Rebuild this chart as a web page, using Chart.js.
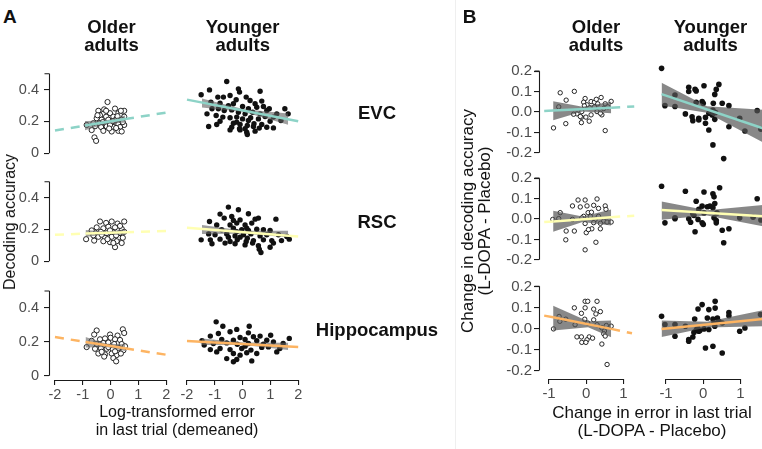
<!DOCTYPE html>
<html>
<head>
<meta charset="utf-8">
<script src="https://cdn.jsdelivr.net/npm/chart.js@4.4.0/dist/chart.umd.min.js"></script>
<style>
  html, body { margin: 0; padding: 0; background: #fff; }
  #fig { position: relative; width: 762px; height: 449px; overflow: hidden;
         font-family: "Liberation Sans", Arial, sans-serif; color: #111; }
  .box { position: absolute; }
  .txt { position: absolute; white-space: nowrap; }
  .sep { position: absolute; left: 455px; top: 0; width: 1px; height: 449px; background: #efefef; }
</style>
</head>
<body>
<div id="fig"><div class="sep"></div></div>
<script>
// ---- axis ticks ----
const A_X_TICKS = [-2, -1, 0, 1, 2];
const A_Y_TICKS = [0, 0.2, 0.4];
const B_X_TICKS = [-1, 0, 1];
const B_Y_TICKS = [-0.2, -0.1, 0, 0.1, 0.2];

const ROW_LABELS = ['EVC', 'RSC', 'Hippocampus'];
const ROW_COLORS = ['#8DD3C7', '#FFFFB3', '#FDB462'];

// ---- panel A: decoding accuracy vs log error (x, y) ----
const EVC_OLDER_A = [[-0.11,0.322],[-0.44,0.267],[0.16,0.281],[0.49,0.267],[-0.26,0.248],[-0.02,0.252],[0.28,0.252],[-0.38,0.239],[-0.16,0.230],[0.10,0.230],[0.34,0.239],[0.49,0.230],[-0.50,0.220],[-0.32,0.211],[-0.08,0.211],[0.16,0.207],[0.40,0.211],[-0.40,0.189],[-0.20,0.183],[0.04,0.189],[0.28,0.183],[0.49,0.178],[-0.86,0.178],[-0.56,0.170],[-0.34,0.165],[-0.14,0.169],[0.10,0.165],[0.34,0.165],[-0.68,0.146],[-0.26,0.141],[0.04,0.137],[0.28,0.141],[-0.58,0.100],[-0.52,0.078],[0.40,0.137],[-0.02,0.178],[0.22,0.220],[-0.23,0.276],[0.37,0.267],[-0.47,0.239],[0.20,0.159],[-0.05,0.156],[0.44,0.196],[-0.62,0.189],[-0.28,0.196],[0.08,0.202],[-0.16,0.267],[0.25,0.233]];
const EVC_YOUNGER_A = [[-0.57,0.428],[-1.19,0.381],[-1.49,0.354],[-0.15,0.387],[-0.11,0.369],[0.63,0.374],[-0.89,0.341],[-0.69,0.341],[-0.45,0.350],[-0.23,0.326],[0.13,0.341],[0.27,0.322],[0.45,0.304],[0.69,0.319],[-1.14,0.313],[-0.81,0.307],[-0.51,0.294],[-0.33,0.304],[0.00,0.289],[0.21,0.276],[0.51,0.285],[0.75,0.289],[0.96,0.276],[-1.10,0.276],[-0.87,0.276],[-0.66,0.267],[-0.39,0.270],[-0.15,0.257],[0.09,0.248],[0.36,0.257],[0.63,0.248],[0.87,0.267],[1.23,0.248],[1.52,0.276],[1.64,0.248],[-1.28,0.248],[-0.95,0.239],[-0.71,0.230],[-0.45,0.226],[-0.21,0.230],[0.00,0.220],[0.29,0.226],[0.57,0.220],[0.81,0.233],[1.11,0.230],[1.38,0.211],[-0.81,0.207],[-0.33,0.196],[-0.09,0.189],[0.17,0.183],[0.41,0.193],[0.69,0.189],[-0.39,0.174],[0.09,0.165],[0.39,0.178],[0.87,0.174],[-1.22,0.178],[-0.45,0.159],[-0.11,0.165],[0.15,0.146],[0.60,0.169],[1.11,0.170],[-0.21,0.202],[-0.93,0.189],[0.99,0.207],[0.21,0.211],[-0.09,0.159],[0.17,0.133],[0.45,0.152]];
const RSC_OLDER_A = [[-0.38,0.250],[-0.16,0.241],[0.04,0.250],[0.25,0.237],[0.49,0.250],[-0.50,0.213],[-0.26,0.207],[-0.08,0.217],[0.16,0.213],[0.40,0.204],[-0.56,0.181],[-0.35,0.185],[-0.14,0.176],[0.10,0.181],[0.32,0.176],[0.49,0.185],[-0.44,0.154],[-0.20,0.148],[0.04,0.154],[0.28,0.148],[-0.88,0.139],[-0.59,0.130],[-0.26,0.126],[-0.02,0.120],[0.22,0.126],[0.40,0.115],[0.16,0.089],[-0.68,0.194],[-0.02,0.194],[-0.32,0.167],[0.20,0.163],[0.44,0.148],[-0.11,0.139],[0.10,0.115],[0.34,0.222],[-0.62,0.163]];
const RSC_YOUNGER_A = [[-0.51,0.330],[-0.15,0.315],[-0.81,0.291],[0.21,0.293],[-1.19,0.250],[-0.66,0.269],[-0.39,0.278],[-0.09,0.259],[0.45,0.263],[0.57,0.269],[1.20,0.263],[-0.93,0.231],[-0.45,0.231],[-0.21,0.241],[0.09,0.231],[0.33,0.241],[0.75,0.204],[0.99,0.200],[-0.75,0.204],[-0.33,0.213],[-0.03,0.204],[0.21,0.200],[0.51,0.207],[-1.22,0.181],[-0.99,0.176],[-0.57,0.181],[-0.27,0.170],[0.03,0.176],[0.30,0.181],[0.63,0.170],[0.87,0.176],[1.29,0.176],[1.59,0.167],[-1.49,0.148],[-1.16,0.148],[-0.81,0.152],[-0.45,0.139],[-0.19,0.148],[0.13,0.139],[0.39,0.144],[0.75,0.148],[1.05,0.144],[1.40,0.144],[1.68,0.152],[-1.10,0.126],[-0.63,0.130],[-0.27,0.126],[0.09,0.120],[0.57,0.115],[0.99,0.107],[1.11,0.130],[0.60,0.096],[0.66,0.078],[0.36,0.130],[0.17,0.157],[-0.09,0.163],[-0.33,0.256],[0.15,0.213],[-0.21,0.194],[-0.51,0.163]];
const HIPP_OLDER_A = [[-0.50,0.267],[0.44,0.274],[0.49,0.252],[-0.59,0.243],[-0.02,0.243],[0.25,0.237],[-0.38,0.215],[-0.20,0.220],[0.00,0.224],[0.16,0.215],[0.34,0.211],[-0.50,0.187],[-0.26,0.193],[-0.08,0.196],[0.13,0.187],[0.40,0.187],[0.52,0.174],[-0.86,0.169],[-0.56,0.159],[-0.35,0.163],[-0.14,0.159],[0.08,0.156],[0.28,0.163],[0.46,0.150],[-0.44,0.131],[-0.20,0.126],[0.04,0.131],[0.22,0.122],[0.37,0.131],[-0.23,0.113],[0.10,0.104],[0.20,0.085],[-0.68,0.206],[-0.08,0.169],[0.16,0.144],[-0.32,0.141]];
const HIPP_YOUNGER_A = [[-0.95,0.298],[-0.71,0.274],[0.24,0.274],[-1.16,0.219],[-0.87,0.233],[-0.45,0.243],[-0.21,0.256],[0.21,0.237],[1.01,0.224],[-0.09,0.211],[0.39,0.215],[0.63,0.219],[-0.75,0.200],[-0.33,0.196],[0.09,0.200],[0.51,0.193],[0.87,0.196],[1.11,0.187],[1.68,0.206],[-1.46,0.193],[-1.05,0.178],[-0.57,0.181],[-0.19,0.174],[0.21,0.178],[0.75,0.174],[1.46,0.178],[-1.16,0.144],[-0.81,0.150],[-0.45,0.144],[-0.03,0.150],[0.30,0.141],[0.69,0.156],[1.23,0.131],[-0.93,0.131],[-0.33,0.122],[0.15,0.126],[0.51,0.122],[-0.09,0.113],[-0.57,0.094],[0.33,0.081],[-0.33,0.076],[-0.21,0.089],[-1.38,0.169],[0.93,0.159],[1.34,0.150],[0.09,0.163]];

// fitted lines [x, y] and confidence bands [x, lower, upper], panel A
const FIT_EVC_OLDER_A = [[-2,0.143],[-0.92,0.174],[0.52,0.215],[2,0.256]];
const FIT_EVC_YOUNGER_A = [[-2,0.327],[2,0.207]];
const FIT_RSC_OLDER_A = [[-2,0.167],[-0.9,0.174],[0.52,0.182],[2,0.191]];
const FIT_RSC_YOUNGER_A = [[-2,0.215],[2,0.167]];
const FIT_HIPP_OLDER_A = [[-2,0.228],[-0.9,0.199],[0.52,0.162],[2,0.124]];
const FIT_HIPP_YOUNGER_A = [[-2,0.192],[2,0.159]];
const CI_EVC_OLDER_A = [[-0.92,0.145,0.203],[-0.2,0.183,0.205],[0.52,0.193,0.237]];
const CI_EVC_YOUNGER_A = [[-1.46,0.284,0.334],[0.05,0.258,0.274],[1.64,0.188,0.250]];
const CI_RSC_OLDER_A = [[-0.9,0.152,0.196],[-0.15,0.170,0.186],[0.52,0.162,0.202]];
const CI_RSC_YOUNGER_A = [[-1.46,0.180,0.230],[0.05,0.182,0.198],[1.64,0.162,0.199]];
const CI_HIPP_OLDER_A = [[-0.9,0.166,0.229],[-0.15,0.169,0.189],[0.52,0.146,0.186]];
const CI_HIPP_YOUNGER_A = [[-1.46,0.170,0.206],[0.05,0.169,0.183],[1.64,0.142,0.182]];

// ---- panel B: change in decoding accuracy vs change in error (x, y) ----
const EVC_OLDER_B = [[-0.70,0.094],[-0.32,0.101],[-0.54,0.058],[-0.74,0.025],[-0.03,0.066],[-0.07,0.048],[0.13,0.051],[0.22,0.048],[0.40,0.071],[0.31,0.040],[0.51,0.040],[0.67,0.052],[-0.25,-0.009],[-0.12,0.002],[0.08,0.022],[0.29,0.002],[0.42,-0.014],[-0.13,-0.026],[-0.01,-0.025],[0.08,-0.045],[-0.55,-0.057],[-0.13,-0.052],[-0.88,-0.078],[0.51,-0.091],[0.47,0.017],[0.58,0.025],[0.22,0.025],[-0.34,-0.011],[0.13,-0.014],[-0.16,-0.022],[0.38,-0.006],[0.02,0.035],[0.27,0.062],[-0.05,0.030]];
const EVC_YOUNGER_B = [[-1.12,0.201],[-0.76,0.078],[-1.03,0.029],[-0.76,0.025],[-0.39,0.114],[-0.39,0.094],[-0.22,0.104],[-0.19,0.097],[0.02,0.121],[0.42,0.127],[0.35,0.104],[0.31,0.081],[-0.19,0.045],[-0.03,0.048],[0.00,0.040],[0.27,0.040],[0.51,0.040],[0.69,0.029],[-0.48,-0.009],[-0.30,-0.022],[-0.12,-0.029],[-0.28,-0.040],[-0.12,-0.037],[0.06,-0.025],[0.15,-0.006],[0.24,-0.014],[0.33,-0.003],[0.31,-0.034],[0.26,0.009],[0.06,-0.052],[0.15,-0.083],[0.69,-0.068],[0.98,-0.029],[1.12,-0.088],[1.45,0.006],[1.55,-0.080],[0.26,-0.152],[0.55,-0.215]];
const RSC_OLDER_B = [[-0.22,0.093],[-0.03,0.093],[0.29,0.098],[-0.37,0.064],[-0.16,0.059],[0.02,0.064],[0.20,0.067],[0.33,0.052],[0.51,0.064],[0.53,0.047],[-0.70,0.031],[0.05,0.031],[0.14,0.033],[-0.07,0.013],[-0.90,-0.002],[-0.74,0.002],[-0.37,-0.002],[0.24,-0.002],[0.47,-0.010],[0.56,-0.015],[0.67,-0.015],[-0.03,-0.022],[0.20,-0.018],[0.38,-0.021],[-0.54,-0.059],[-0.32,-0.059],[0.00,-0.067],[0.15,-0.048],[0.06,-0.052],[0.38,-0.048],[-0.55,-0.102],[0.26,-0.114],[-0.03,-0.151],[-0.12,0.005],[0.11,0.013],[0.33,0.013]];
const RSC_YOUNGER_B = [[-1.12,0.151],[-0.48,0.128],[0.44,0.144],[0.02,0.124],[0.26,0.116],[0.29,0.102],[-0.19,0.082],[0.31,0.071],[1.45,0.093],[-0.03,0.059],[0.11,0.056],[0.18,0.059],[0.26,0.052],[-0.12,0.044],[-0.28,0.024],[0.02,0.028],[0.37,0.028],[-0.39,0.001],[-0.25,0.016],[-0.14,-0.002],[0.29,0.005],[0.35,-0.007],[0.98,0.005],[1.34,0.008],[-0.76,0.005],[-1.03,-0.018],[-0.76,0.001],[-0.34,-0.015],[-0.03,-0.018],[0.00,-0.025],[0.35,-0.018],[-0.22,-0.059],[0.51,-0.052],[0.69,-0.045],[0.55,-0.110],[1.55,-0.005]];
const HIPP_OLDER_B = [[-0.03,0.129],[0.04,0.129],[0.29,0.129],[-0.32,0.098],[-0.03,0.098],[0.20,0.092],[0.38,0.080],[0.26,0.069],[-0.13,0.072],[-0.73,0.057],[-0.55,0.044],[-0.04,0.044],[0.20,0.041],[-0.30,0.018],[0.04,0.026],[0.29,0.018],[0.54,0.014],[0.67,0.011],[-0.88,-0.002],[-0.71,0.034],[0.42,0.003],[0.49,-0.012],[0.47,-0.025],[-0.25,-0.040],[-0.13,-0.040],[0.08,-0.040],[0.17,-0.046],[0.02,-0.054],[-0.12,-0.066],[-0.01,-0.066],[0.42,-0.074],[0.56,-0.171],[0.51,-0.036]];
const HIPP_YOUNGER_B = [[0.32,0.118],[-0.03,0.103],[-0.14,0.083],[0.15,0.080],[0.32,0.087],[0.69,0.067],[0.69,0.052],[-1.12,0.049],[1.54,0.057],[-0.23,0.037],[0.11,0.041],[0.26,0.037],[0.38,0.041],[0.42,0.026],[0.29,0.018],[0.51,0.018],[-1.03,0.011],[-0.76,0.011],[-0.48,0.003],[-0.16,-0.005],[0.02,-0.009],[-0.19,-0.015],[-0.12,-0.020],[-0.25,-0.025],[0.15,-0.012],[0.31,0.003],[1.12,-0.005],[0.98,-0.020],[-0.76,-0.043],[-0.28,-0.046],[-0.39,-0.058],[-0.39,-0.066],[0.06,-0.097],[0.26,-0.089],[0.51,-0.120],[-0.09,-0.016],[-0.14,-0.009]];

const FIT_EVC_OLDER_B = [[-1.13,0.005],[-0.89,0.007],[0.67,0.021],[1.29,0.027]];
const FIT_EVC_YOUNGER_B = [[-1.12,0.082],[1.6,-0.075]];
const FIT_RSC_OLDER_B = [[-1.13,-0.015],[-0.89,-0.012],[0.67,0.009],[1.29,0.016]];
const FIT_RSC_YOUNGER_B = [[-1.12,0.041],[1.6,0.013]];
const FIT_HIPP_OLDER_B = [[-1.13,0.061],[-0.89,0.053],[0.67,-0.002],[1.23,-0.023]];
const FIT_HIPP_YOUNGER_B = [[-1.12,-0.009],[1.6,0.037]];
const CI_EVC_OLDER_B = [[-0.89,-0.040,0.052],[-0.1,0.002,0.026],[0.67,-0.006,0.050]];
const CI_EVC_YOUNGER_B = [[-1.12,0.030,0.135],[0.1,-0.004,0.026],[1.6,-0.140,0.010]];
const CI_RSC_OLDER_B = [[-0.89,-0.062,0.040],[-0.1,-0.015,0.012],[0.67,-0.032,0.046]];
const CI_RSC_YOUNGER_B = [[-1.12,-0.004,0.080],[0.1,0.016,0.040],[1.6,-0.034,0.064]];
const CI_HIPP_OLDER_B = [[-0.89,-0.010,0.108],[0.05,0.006,0.034],[0.67,-0.042,0.038]];
const CI_HIPP_YOUNGER_B = [[-1.12,-0.046,0.030],[0.1,-0.002,0.024],[1.6,0.003,0.077]];

// ---- layout ----
const fig = document.getElementById('fig');
const FONT = '"Liberation Sans", Arial, sans-serif';
Chart.defaults.font.family = FONT;
const DASH = [9, 7];
const PAD = 8;

const LAYOUT = {
  A: { cols: [49, 181], colW: [123, 123], xMin: -2.215, unit: 27.8,
       rows: [64, 172, 281], rowH: 99, yMin: -0.025, yMax: 0.525,
       xTicks: A_X_TICKS, yTicks: A_Y_TICKS, xCap: [-2, 2], yCap: [0, 0.5],
       yFmt: v => v === 0 ? '0' : v.toFixed(1), yw: 41, yPad: 5, tickSize: 14.5,
       band: 'rgba(95,95,95,0.6)', rOld: 2.6, rYoung: 2.7 },
  B: { cols: [539, 656], colW: [101, 110], xMin: -1.27, unit: 37.2,
       rows: [61, 168, 276], rowH: 103, yMin: -0.24, yMax: 0.235,
       xTicks: B_X_TICKS, yTicks: B_Y_TICKS, xCap: [-1, 1], yCap: [-0.2, 0.2],
       yFmt: v => v.toFixed(1), yw: 40, yPad: 2, tickSize: 15,
       band: 'rgba(85,85,85,0.7)', rOld: 2.2, rYoung: 2.8 }
};

const capAxes = {
  id: 'capAxes',
  afterDraw(chart) {
    const o = chart.options.plugins.capAxes;
    if (!o) return;
    const { ctx, chartArea, scales } = chart;
    ctx.save();
    ctx.strokeStyle = '#1a1a1a';
    ctx.lineWidth = 1.1;
    ctx.beginPath();
    if (o.y) {
      const x = Math.round(chartArea.left) + 0.5;
      const y0 = scales.y.getPixelForValue(o.y[0]);
      const y1 = scales.y.getPixelForValue(o.y[1]);
      ctx.moveTo(x, y0); ctx.lineTo(x, y1);
      ctx.moveTo(x, y1); ctx.lineTo(x - 5, y1);
    }
    if (o.x) {
      const y = Math.round(chartArea.bottom) + 0.5;
      ctx.moveTo(scales.x.getPixelForValue(o.x[0]), y);
      ctx.lineTo(scales.x.getPixelForValue(o.x[1]), y);
    }
    ctx.stroke();
    ctx.restore();
  }
};

function makePanel(figKey, row, col, pts, fit, ci, older) {
  const L = LAYOUT[figKey];
  const showY = col === 0, showX = row === 2;
  const yw = showY ? L.yw : 0, xh = showX ? 28 : 0;
  const w = L.colW[col], h = L.rowH;
  const box = document.createElement('div');
  box.className = 'box';
  box.style.left = (L.cols[col] - PAD - yw) + 'px';
  box.style.top = (L.rows[row] - PAD) + 'px';
  box.style.width = (w + 2 * PAD + yw) + 'px';
  box.style.height = (h + 2 * PAD + xh) + 'px';
  const cv = document.createElement('canvas');
  box.appendChild(cv);
  fig.appendChild(box);

  const color = ROW_COLORS[row];
  const n = fit.length;
  const tickFont = { family: FONT, size: L.tickSize };

  new Chart(cv, {
    type: 'scatter',
    data: {
      datasets: [
        {
          data: fit.map(p => ({ x: p[0], y: p[1] })),
          showLine: true, borderColor: color, borderWidth: 2.5,
          pointRadius: 0, fill: false, order: 0,
          segment: {
            borderDash: c => (older && (c.p0DataIndex === 0 || c.p1DataIndex === n - 1)) ? DASH : undefined
          }
        },
        {
          data: ci.map(b => ({ x: b[0], y: b[1] })),
          showLine: true, borderWidth: 0, pointRadius: 0, fill: false, order: 1
        },
        {
          data: ci.map(b => ({ x: b[0], y: b[2] })),
          showLine: true, borderWidth: 0, pointRadius: 0,
          fill: '-1', backgroundColor: L.band, order: 1
        },
        {
          data: pts.map(p => ({ x: p[0], y: p[1] })),
          pointRadius: older ? L.rOld : L.rYoung,
          pointBackgroundColor: older ? '#fff' : '#111',
          pointBorderColor: '#111',
          pointBorderWidth: older ? 0.9 : 0,
          order: 2
        }
      ]
    },
    options: {
      responsive: true, maintainAspectRatio: false, animation: false,
      events: [],
      layout: { padding: PAD, autoPadding: false },
      plugins: {
        legend: { display: false }, tooltip: { enabled: false },
        capAxes: { y: showY ? L.yCap : null, x: showX ? L.xCap : null }
      },
      scales: {
        x: {
          type: 'linear', min: L.xMin, max: L.xMin + w / L.unit,
          display: showX,
          afterFit: s => { s.height = xh; },
          afterBuildTicks: s => { s.ticks = L.xTicks.map(v => ({ value: v })); },
          grid: { drawOnChartArea: false, tickLength: 5, color: '#1a1a1a', lineWidth: 1.1 },
          border: { display: false },
          ticks: { color: '#4d4d4d', font: tickFont, padding: 1, maxRotation: 0, autoSkip: false,
                   callback: v => String(v) }
        },
        y: {
          type: 'linear', min: L.yMin, max: L.yMax,
          display: showY,
          afterFit: s => { s.width = yw; },
          afterBuildTicks: s => { s.ticks = L.yTicks.map(v => ({ value: v })); },
          grid: { drawOnChartArea: false, tickLength: 5, color: '#1a1a1a', lineWidth: 1.1 },
          border: { display: false },
          ticks: { color: '#4d4d4d', font: tickFont, padding: L.yPad, autoSkip: false,
                   callback: v => L.yFmt(v) }
        }
      }
    },
    plugins: [capAxes]
  });
}

const SETS = {
  A: [[EVC_OLDER_A, FIT_EVC_OLDER_A, CI_EVC_OLDER_A, EVC_YOUNGER_A, FIT_EVC_YOUNGER_A, CI_EVC_YOUNGER_A],
      [RSC_OLDER_A, FIT_RSC_OLDER_A, CI_RSC_OLDER_A, RSC_YOUNGER_A, FIT_RSC_YOUNGER_A, CI_RSC_YOUNGER_A],
      [HIPP_OLDER_A, FIT_HIPP_OLDER_A, CI_HIPP_OLDER_A, HIPP_YOUNGER_A, FIT_HIPP_YOUNGER_A, CI_HIPP_YOUNGER_A]],
  B: [[EVC_OLDER_B, FIT_EVC_OLDER_B, CI_EVC_OLDER_B, EVC_YOUNGER_B, FIT_EVC_YOUNGER_B, CI_EVC_YOUNGER_B],
      [RSC_OLDER_B, FIT_RSC_OLDER_B, CI_RSC_OLDER_B, RSC_YOUNGER_B, FIT_RSC_YOUNGER_B, CI_RSC_YOUNGER_B],
      [HIPP_OLDER_B, FIT_HIPP_OLDER_B, CI_HIPP_OLDER_B, HIPP_YOUNGER_B, FIT_HIPP_YOUNGER_B, CI_HIPP_YOUNGER_B]]
};

['A', 'B'].forEach(k => {
  SETS[k].forEach((s, r) => {
    makePanel(k, r, 0, s[0], s[1], s[2], true);
    makePanel(k, r, 1, s[3], s[4], s[5], false);
  });
});

// ---- text ----
function label(txt, x, base, size, opts = {}) {
  const d = document.createElement('div');
  d.className = 'txt';
  d.textContent = txt;
  d.style.fontSize = size + 'px';
  d.style.lineHeight = size + 'px';
  d.style.fontWeight = opts.bold ? 'bold' : 'normal';
  d.style.top = (base - 0.8465 * size) + 'px';
  if (opts.left) {
    d.style.left = x + 'px';
  } else {
    d.style.left = (x - 200) + 'px';
    d.style.width = '400px';
    d.style.textAlign = 'center';
  }
  fig.appendChild(d);
}

function vlabel(html, cx, cy, size, lh) {
  const d = document.createElement('div');
  d.className = 'txt';
  d.innerHTML = html;
  d.style.fontSize = size + 'px';
  d.style.lineHeight = lh + 'px';
  d.style.textAlign = 'center';
  d.style.left = cx + 'px';
  d.style.top = cy + 'px';
  d.style.transform = 'translate(-50%, -50%) rotate(-90deg)';
  fig.appendChild(d);
}

label('A', 3, 22.7, 19, { bold: true, left: true });
label('B', 462.7, 22.7, 19, { bold: true, left: true });
[[111.5, 'Older'], [242.7, 'Younger'], [596, 'Older'], [710.5, 'Younger']].forEach(([x, t]) => {
  label(t, x, 33.3, 18.5, { bold: true });
  label('adults', x, 51.7, 18.5, { bold: true });
});
[120, 228.3, 336.7].forEach((b, i) => label(ROW_LABELS[i], 377, b, 18.5, { bold: true }));

label('Log-transformed error', 177, 418, 16);
label('in last trial (demeaned)', 177, 436, 16);
label('Change in error in last trial', 652, 418, 17);
label('(L-DOPA - Placebo)', 652, 436, 17);
vlabel('Decoding accuracy', 10, 222, 16, 16);
vlabel('Change in decoding accuracy<br>(L-DOPA - Placebo)', 476, 221, 17, 17);
</script>
</body>
</html>
